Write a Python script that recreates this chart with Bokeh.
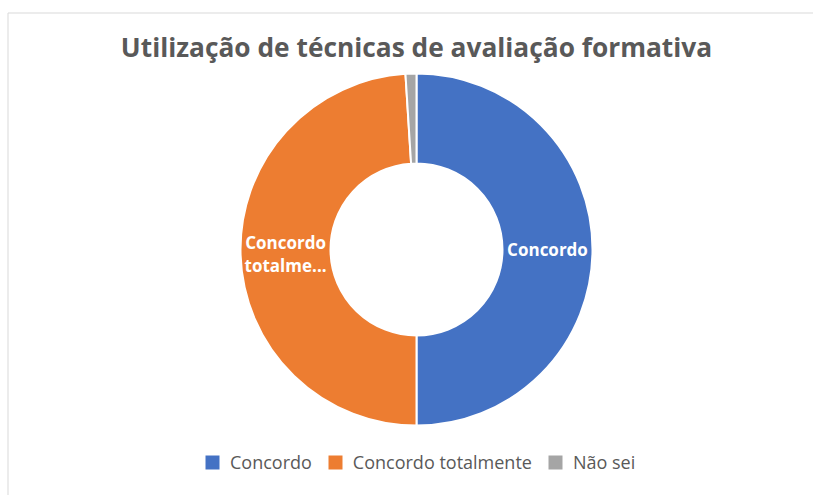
import math
from bokeh.plotting import figure
from bokeh.models import Range1d, ColumnDataSource, Legend, LegendItem
from bokeh.core.properties import value
from bokeh.embed import file_html
from bokeh.resources import INLINE

title_text = "Utilização de técnicas de avaliação formativa"
categories = ["Concordo", "Concordo totalmente", "Não sei"]
shares = [50.0, 49.0, 1.0]
labels = ["Concordo", "Concordo\ntotalme...", ""]
colors = ["#4472C4", "#ED7D31", "#A5A5A5"]

W, H = 813, 495
cx, cy = 416, 246
r_in, r_out = 86, 176

total = sum(shares)
starts, ends, lx, ly = [], [], [], []
cum = 0.0
for s in shares:
    a0 = math.pi / 2 - 2 * math.pi * cum / total
    cum += s
    a1 = math.pi / 2 - 2 * math.pi * cum / total
    starts.append(a0)
    ends.append(a1)
    mid = (a0 + a1) / 2
    rm = (r_in + r_out) / 2
    lx.append(cx + rm * math.cos(mid))
    ly.append(cy + rm * math.sin(mid))

src = ColumnDataSource(dict(cat=categories, start=starts, end=ends, color=colors,
                            lab=labels, lx=lx, ly=ly,
                            x=[cx] * 3, y=[cy] * 3))

p = figure(width=W, height=H, output_backend="svg", toolbar_location=None,
           x_range=Range1d(0, W), y_range=Range1d(0, H), min_border=0,
           background_fill_color="white", border_fill_color="white")
p.axis.visible = False
p.grid.visible = False
p.outline_line_color = None

# chart area border (top and left visible)
p.segment(x0=[7.5, 7.5], y0=[482.5, 482.5], x1=[W, 7.5], y1=[482.5, 0],
          line_color="#D9D9D9", line_width=1)

r = p.annular_wedge(x="x", y="y", inner_radius=r_in, outer_radius=r_out,
                    start_angle="start", end_angle="end", direction="clock",
                    fill_color="color", line_color="white", line_width=2,
                    source=src)

p.text(x="lx", y="ly", text="lab", source=src, text_align="center",
       text_baseline="middle", text_color="white", text_font_size="17px",
       text_font=value("Open Sans"), text_font_style="bold", text_line_height=1.0)

p.text(x=[cx], y=[449], text=[title_text], text_align="center",
       text_baseline="middle", text_color="#595959", text_font_size="26.3px",
       text_font=value("Open Sans"), text_font_style="bold")

items = [LegendItem(label=c, renderers=[r], index=i) for i, c in enumerate(categories)]
legend = Legend(items=items, orientation="horizontal", location=(202, 21),
                label_text_font="Open Sans", label_text_font_size="18px",
                label_text_color="#595959", glyph_width=20, glyph_height=20,
                label_standoff=8, spacing=13, padding=0, margin=0,
                border_line_color=None, background_fill_alpha=0)
p.add_layout(legend, "center")

open("out.html", "w").write(file_html(p, INLINE))
